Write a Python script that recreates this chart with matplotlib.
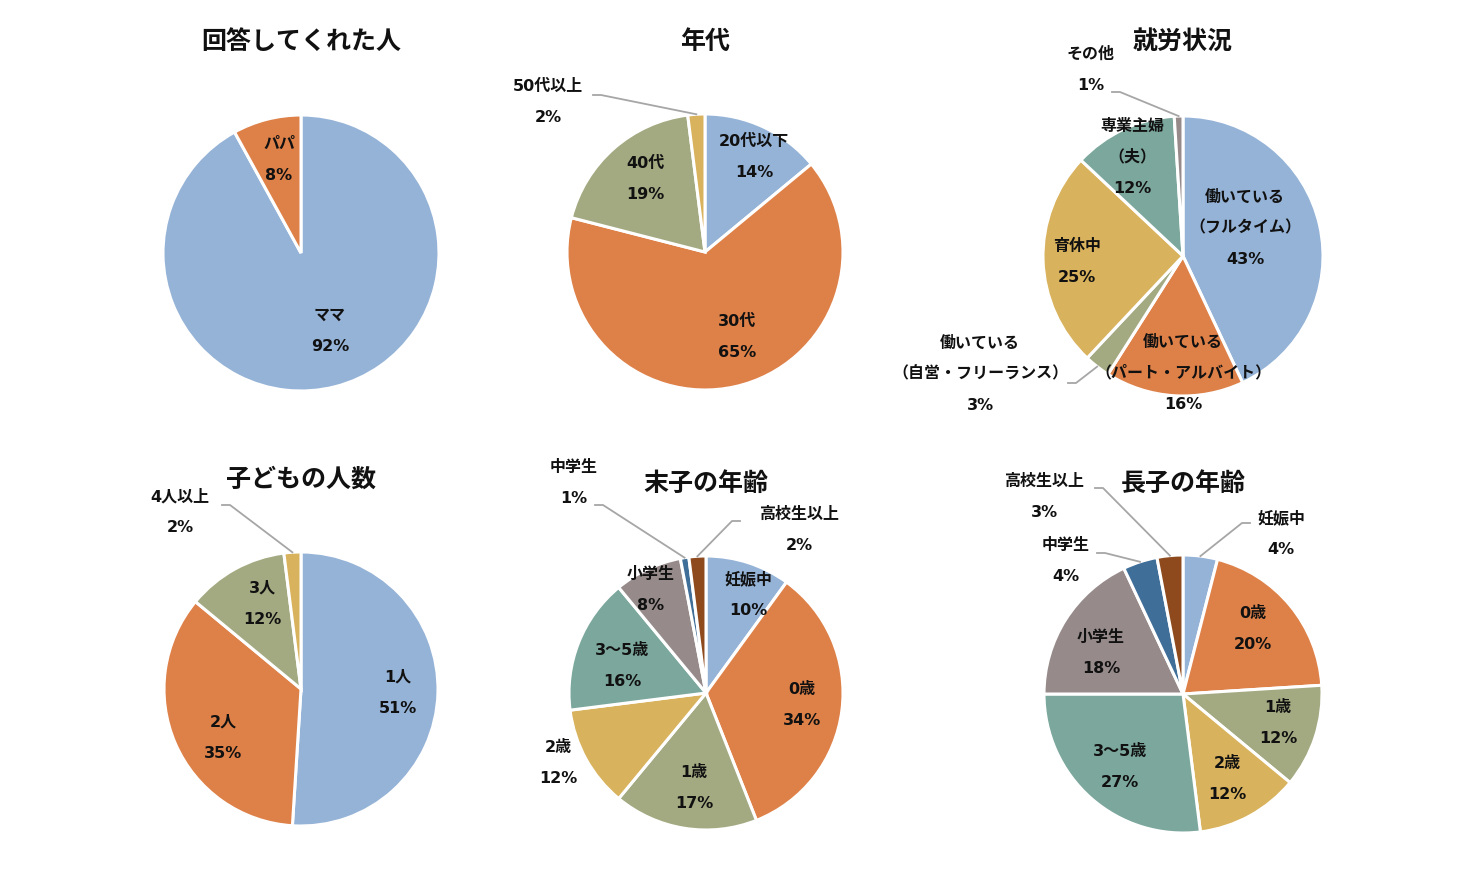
import numpy as np
import matplotlib.pyplot as plt

# Latin digits in DejaVu (wide, like the original), Japanese falls back to Noto
plt.rcParams['font.family'] = ['DejaVu Sans', 'Noto Sans CJK JP']

# data
resp_labels = ['ママ', 'パパ']
resp_values = [92, 8]

age_labels = ['20代以下', '30代', '40代', '50代以上']
age_values = [14, 65, 19, 2]

work_labels = ['働いている\n（フルタイム）', '働いている\n（パート・アルバイト）',
               '働いている\n（自営・フリーランス）', '育休中', '専業主婦\n（夫）', 'その他']
work_values = [43, 16, 3, 25, 12, 1]

kids_labels = ['1人', '2人', '3人', '4人以上']
kids_values = [51, 35, 12, 2]

child_labels = ['妊娠中', '0歳', '1歳', '2歳', '3～5歳', '小学生', '中学生', '高校生以上']
youngest_values = [10, 34, 17, 12, 16, 8, 1, 2]
eldest_values = [4, 20, 12, 12, 27, 18, 4, 3]

colors = ['#95B3D7', '#DE8149', '#A3AA81', '#D8B25C', '#7BA79C', '#968B8A', '#3F6E98', '#8E4A1D']

W, H = 1483, 880
fig = plt.figure(figsize=(W / 100, H / 100), dpi=100)
ax = fig.add_axes([0, 0, 1, 1])

# layout: centre/radius in pixels, label offsets (dx, dy up) in pixels,
# leaders: slice index -> start point offset and direction of elbow
panels = [
    dict(title='回答してくれた人', c=(301, 253), r=138, t=(301, 42),
         labels=resp_labels, values=resp_values,
         pos=[(29, -78), (-22, 93)], leaders={}),
    dict(title='年代', c=(705, 252), r=138, t=(705, 42),
         labels=age_labels, values=age_values,
         pos=[(49, 95), (32, -85), (-60, 73), (-157, 150)],
         leaders={3: (-112, 157, 1)}),
    dict(title='就労状況', c=(1183, 256), r=140, t=(1183, 42),
         labels=work_labels, values=work_values,
         pos=[(62, 28), (0, -117), (-203, -118), (-106, -6), (-51, 99), (-92, 186)],
         leaders={2: (-115, -127, 1), 5: (-71, 164, 1)}),
    dict(title='子どもの人数', c=(301, 689), r=137, t=(301, 480),
         labels=kids_labels, values=kids_values,
         pos=[(97, -4), (-78, -49), (-39, 85), (-121, 177)],
         leaders={3: (-79, 184, 1)}),
    dict(title='末子の年齢', c=(706, 693), r=137, t=(706, 484),
         labels=child_labels, values=youngest_values,
         pos=[(42, 98), (96, -12), (-12, -95), (-148, -70), (-84, 27), (-55, 103),
              (-132, 210), (93, 163)],
         leaders={6: (-111, 188, 1), 7: (34, 172, -1)}),
    dict(title='長子の年齢', c=(1183, 694), r=139, t=(1183, 484),
         labels=child_labels, values=eldest_values,
         pos=[(98, 160), (70, 65), (95, -29), (44, -85), (-63, -73), (-82, 41),
              (-117, 133), (-139, 197)],
         leaders={0: (67, 171, -1), 6: (-86, 141, 1), 7: (-88, 206, 1)}),
]

txt = dict(ha='center', va='center', fontsize=11.5, fontweight='bold', color='#111111')

for p in panels:
    cx, cy = p['c'][0], H - p['c'][1]
    r = p['r']
    wedges, _ = ax.pie(p['values'], colors=colors[:len(p['values'])], startangle=90,
                       counterclock=False, center=(cx, cy), radius=r,
                       wedgeprops=dict(edgecolor='white', linewidth=2.2))
    total = sum(p['values'])
    for i, (w, lab, v) in enumerate(zip(wedges, p['labels'], p['values'])):
        lines = lab.split('\n') + ['%d%%' % round(100 * v / total)]
        lx, ly = cx + p['pos'][i][0], cy + p['pos'][i][1]
        n = len(lines)
        for k, s in enumerate(lines):
            ax.text(lx, ly + (n - 1) * 15.5 - k * 31, s, **txt)
        if i in p['leaders']:
            sx, sy, d = p['leaders'][i]
            mid = np.deg2rad((w.theta1 + w.theta2) / 2)
            ex, ey = cx + r * np.cos(mid), cy + r * np.sin(mid)
            xs = [cx + sx, cx + sx + 8 * d, ex]
            ys = [cy + sy, cy + sy, ey]
            ax.plot(xs, ys, color='#A6A6A6', lw=1.3)
    ax.text(p['t'][0], H - p['t'][1], p['title'], ha='center', va='center',
            fontsize=18, fontweight='bold', color='#111111')

ax.set_xlim(0, W)
ax.set_ylim(0, H)
ax.set_aspect('equal')
ax.axis('off')

fig.savefig('out.png', dpi=100, facecolor='white')
